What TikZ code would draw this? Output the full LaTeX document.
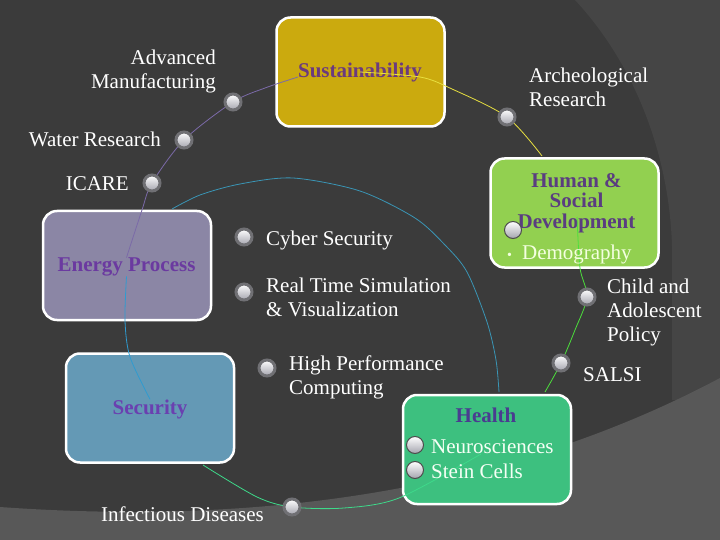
\documentclass[tikz,border=0pt]{standalone}
\usepackage{fontspec}
\setmainfont{Liberation Serif}
\definecolor{bgA}{HTML}{3B3B3B}
\definecolor{bgB}{HTML}{454545}
\definecolor{bgC}{HTML}{585858}
\definecolor{goldc}{HTML}{CBAA0E}
\definecolor{humc}{HTML}{92D050}
\definecolor{enc}{HTML}{8B86A5}
\definecolor{secc}{HTML}{6499B5}
\definecolor{heac}{HTML}{3DC07F}
\definecolor{purl}{HTML}{7B6AA8}
\definecolor{yell}{HTML}{E8E040}
\definecolor{arcl}{HTML}{3A95B5}
\definecolor{bluel}{HTML}{2F9BD0}
\definecolor{grnl}{HTML}{3ED98A}
\definecolor{brgl}{HTML}{4CE03C}
\definecolor{tsus}{HTML}{6B3A7E}
\definecolor{ten}{HTML}{6B3AA0}
\definecolor{tsec}{HTML}{6A40B0}
\definecolor{thea}{HTML}{4A3C90}
\definecolor{thum}{HTML}{5A3D80}
\definecolor{demo}{HTML}{F4FFE0}
\definecolor{ringc}{HTML}{707074}
\definecolor{ballo}{HTML}{A4A4AE}
\begin{document}
\begin{tikzpicture}[x=1pt,y=-1pt,
  lbl/.style={text=white, font=\fontsize{21}{24}\selectfont, inner sep=0pt},
  ttl/.style={font=\bfseries\fontsize{21}{20.5}\selectfont, inner sep=0pt, align=center},
  boxx/.style={draw=white, line width=2.5pt, rounded corners=14pt, inner sep=0pt,
               minimum width=168pt, minimum height=109pt},
  dot/.style={circle, minimum size=16pt, inner sep=0pt, top color=white, bottom color=ballo,
              draw=ringc, line width=3pt},
  dotin/.style={circle, minimum size=17pt, inner sep=0pt, top color=white, bottom color=ballo,
              draw=gray!60!black, line width=1pt},
  cn/.style={line width=0.8pt}]
% background
\fill[bgA] (0,0) rectangle (720,540);
\fill[bgB] (575,0) .. controls (640,70) and (675,170) .. (672,270) -- (672,400) -- (720,400) -- (720,0) -- cycle;
\fill[bgC] (0,507) .. controls (250,525) and (500,495) .. (720,378) -- (720,540) -- (0,540) -- cycle;
\useasboundingbox (0,0) rectangle (720,540);

% dot positions
\coordinate (cAM) at (233,102);
\coordinate (cWR) at (184,140);
\coordinate (cIC) at (152,183);
\coordinate (cCS) at (244,237);
\coordinate (cRT) at (244,292);
\coordinate (cHP) at (267,368);
\coordinate (cAR) at (507,117);
\coordinate (cHD) at (513,230);
\coordinate (cCh) at (587,297);
\coordinate (cSA) at (561,363);
\coordinate (cID) at (292,507);
\coordinate (cNE) at (415,445);
\coordinate (cST) at (415,470);

% boxes
\node[boxx, fill=goldc] (sus) at (360.5,72) {};
\node[boxx, fill=humc] (hum) at (574.5,213) {};
\node[boxx, fill=enc] (ene) at (127,265.5) {};
\node[boxx, fill=secc] (sec) at (150,408) {};
\node[boxx, fill=heac] (hea) at (487,449.5) {};

% titles
\node[ttl, text=tsus] (susT) at (360,72) {Sustainability};
\node[ttl, text=thum] (humT) at (576.5,203) {Human \&\\Social\\Development};
\node[ttl, text=ten] (enT) at (126.5,267) {Energy Process};
\node[ttl, text=tsec] (secT) at (150,409) {Security};
\node[ttl, text=thea] (heaT) at (486,415) {Health};

% via points of connectors
\coordinate (pp1) at (265,88);
\coordinate (pp2) at (142,210);
\coordinate (py1) at (420,77);
\coordinate (py2) at (452,89);
\coordinate (py3) at (542,156);
\coordinate (ba0) at (172,209);
\coordinate (ba1) at (200,195);
\coordinate (ba2) at (240,184);
\coordinate (ba3) at (293,178);
\coordinate (ba4) at (360,191);
\coordinate (ba5) at (415,218);
\coordinate (ba6) at (445,245);
\coordinate (ba7) at (467,272);
\coordinate (ba8) at (487,322);
\coordinate (ba9) at (496,360);
\coordinate (ba10) at (499,392);
\coordinate (bl1) at (125,321);
\coordinate (bl2) at (130,357);
\coordinate (gr0) at (203,465);
\coordinate (gr1) at (257,497);
\coordinate (gr2) at (344,508);
\coordinate (gr3) at (399,498);
\coordinate (gr4) at (481,454);
\coordinate (hb0) at (577,217);
\coordinate (hb1) at (580,268);
\coordinate (hb2) at (575,330);
\coordinate (hb3) at (545,392);

% connectors
\draw[cn, purl] plot[smooth] coordinates {(susT.base west) (pp1) (cAM) (cWR) (cIC) (pp2) (enT.north)};
\draw[cn, yell] plot[smooth] coordinates {(susT.center) (py1) (py2) (cAR) (py3)};
\draw[cn, arcl] plot[smooth] coordinates {(ba0) (ba1) (ba2) (ba3) (ba4) (ba5) (ba6) (ba7) (ba8) (ba9) (ba10)};
\draw[cn, bluel] plot[smooth] coordinates {(enT.south) (bl1) (bl2) (secT.north)};
\draw[cn, grnl] plot[smooth] coordinates {(gr0) (gr1) (cID) (gr2) (gr3) (gr4)};
\draw[cn, brgl] plot[smooth] coordinates {(hb0) (hb1) (cCh) (hb2) (cSA) (hb3)};

% labels
\node[lbl, anchor=east, align=right] (lAM) at (216,71) {Advanced\\Manufacturing};
\node[lbl, anchor=east] (lWR) at (161,139) {Water Research};
\node[lbl, anchor=east] (lIC) at (129,184) {ICARE};
\node[lbl, anchor=west] (lCS) at (266,240) {Cyber Security};
\node[lbl, anchor=west, align=left] (lRT) at (266,297) {Real Time Simulation\\\& Visualization};
\node[lbl, anchor=west, align=left] (lHP) at (289,377) {High Performance\\Computing};
\node[lbl, anchor=west, align=left] (lAR) at (529,87) {Archeological\\Research};
\node[lbl, anchor=west, align=left] (lCh) at (607,312) {Child and\\Adolescent\\Policy};
\node[lbl, anchor=west] (lSA) at (583,375) {SALSI};
\node[lbl, anchor=east] (lID) at (264,514.5) {Infectious Diseases};
\node[lbl, anchor=west, text=demo] (lDe) at (507,254) {{\fontsize{14}{14}\selectfont •}\hspace{10pt}Demography};
\node[lbl, anchor=west, text=white!96!green] (lNE) at (431,447) {Neurosciences};
\node[lbl, anchor=west, text=white!96!green] (lST) at (431,471) {Stein Cells};

% dots
\node[dot] (dAM) at (cAM) {};
\node[dot] (dWR) at (cWR) {};
\node[dot] (dIC) at (cIC) {};
\node[dot] (dCS) at (cCS) {};
\node[dot] (dRT) at (cRT) {};
\node[dot] (dHP) at (cHP) {};
\node[dot] (dAR) at (cAR) {};
\node[dot] (dCh) at (cCh) {};
\node[dot] (dSA) at (cSA) {};
\node[dot] (dID) at (cID) {};
\node[dotin] (dHD) at (cHD) {};
\node[dotin] (dNE) at (cNE) {};
\node[dotin] (dST) at (cST) {};
\end{tikzpicture}
\end{document}
